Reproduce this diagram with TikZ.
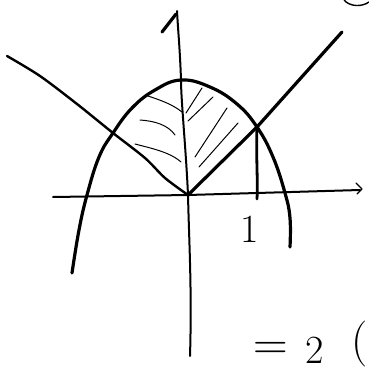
\documentclass[tikz,border=0pt]{standalone}
\usetikzlibrary{calc}
\tikzset{
  axis/.style={line width=2pt, line cap=round, line join=round},
  curve/.style={line width=3.2pt, line cap=round, line join=round},
  hatch/.style={line width=1pt, line cap=round},
  handtext/.style={inner sep=0pt, font=\fontsize{40}{40}\selectfont}
}
\begin{document}
\begin{tikzpicture}[x=1pt,y=-1pt]
\useasboundingbox (0,0) rectangle (369,370);
% named points
\coordinate (O) at (188,195);
\coordinate (V) at (181,80);
\coordinate (L) at (113,133);
\coordinate (R) at (257,127);
\coordinate (X1) at (257,199);
% y axis
\draw[axis] (190,356) .. controls (192,290) and (189,240) .. (O)
  .. controls (186,150) and (181,100) .. (V) .. controls (180,50) and (178,30) .. (177,11);
\draw[line width=3.2pt, line cap=round] (162,32) -- (176,14);
% x axis
\draw[axis] (53,197) -- (O) -- (360,190);
\draw[line width=1.4pt, line cap=round, line join=round] (356,183) -- (362,189) -- (357,194);
% parabola
\draw[curve] plot[smooth, tension=0.7] coordinates {
  (72,273) (79,230) (87,195) (99,157) (L) (132,108) (155,90) (V) (210,87) (237,104) (R) (273,157) (285,193) (290,218) (290,247)};
% |x| lines
\draw[curve, line width=2.4pt] plot[smooth, tension=0.5] coordinates {
  (7,56) (40,76) (77,104) (L) (145,158) (165,178) (O)};
\draw[curve] (O) -- (R) -- (342,32);
% vertical x=1
\draw[line width=2.8pt, line cap=round] (R) .. controls (256,160) and (258,180) .. (X1);
% hatching left
\draw[hatch] (148,96) .. controls (160,100) and (172,104) .. (182,112);
\draw[hatch] (140,120) .. controls (155,121) and (168,125) .. (175,135);
\draw[hatch] (135,144) .. controls (150,148) and (170,152) .. (181,162);
% hatching right
\draw[hatch] (202,88) -- (186,113);
\draw[hatch] (213,97) -- (188,121);
\draw[hatch] (227,108) -- (195,157);
\draw[hatch] (238,123) -- (199,167);
% labels
\node[handtext] (one) at (250,229) {1};
\node[handtext, font=\fontsize{48}{48}\selectfont] (eq) at (271,351) {=};
\node[handtext] (two) at (315,350) {2};
\node[handtext, font=\fontsize{46}{46}\selectfont, anchor=east] (par) at (368,344) {(};
% partial shape top right
\draw[line width=1.4pt] (344,0) .. controls (350,7) and (362,7) .. (369,2);
\end{tikzpicture}
\end{document}
